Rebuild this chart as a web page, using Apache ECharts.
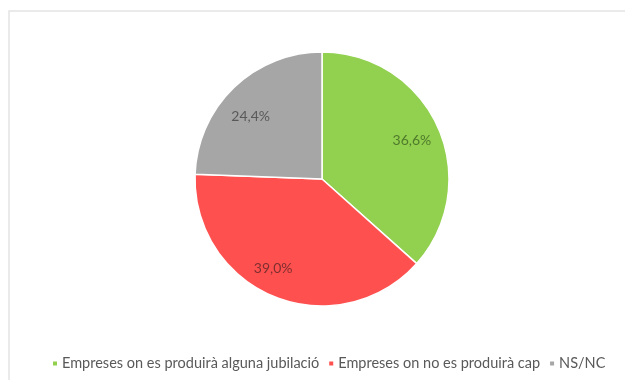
<!DOCTYPE html>
<html><head><meta charset="utf-8">
<script src="https://cdn.jsdelivr.net/npm/echarts@6/dist/echarts.min.js"></script>
<style>html,body{margin:0;padding:0;background:#fff}#c{width:625px;height:380px}</style>
</head><body><div id="c"></div>
<script>
const categories = ['Empreses on es produirà alguna jubilació', 'Empreses on no es produirà cap', 'NS/NC'];
const values = [36.6, 39.0, 24.4];
const colors = ['#92D050', '#FF5050', '#A6A6A6'];
const labelColors = ['#4F7A2B', '#7E2F2F', '#595959'];
const labelOffsets = [[0, 2], [-12, -2], [-3, 8]];

function render() {
  const chart = echarts.init(document.getElementById('c'), null, {renderer: 'canvas'});
  const fmt = v => v.toFixed(1).replace('.', ',') + '%';
  chart.setOption({
    animation: false,
    graphic: [{type: 'rect', shape: {x: 9, y: 11, width: 630, height: 400}, style: {fill: 'none', stroke: '#e3e3e3', lineWidth: 1.5}, silent: true}],
    legend: {
      bottom: 4, left: 46,
      itemWidth: 6, itemHeight: 6, icon: 'rect', itemGap: 8,
      textStyle: {fontFamily: 'Lato', fontSize: 14.5, color: '#595959', padding: [0, 0, 0, -1]},
      data: categories
    },
    series: [{
      type: 'pie', center: [322, 179], radius: 127, startAngle: 90, clockwise: true,
      itemStyle: {borderColor: '#fff', borderWidth: 1.5},
      label: {show: false}, labelLine: {show: false},
      data: categories.map((n, i) => ({name: n, value: values[i], itemStyle: {color: colors[i]}}))
    }, {
      type: 'pie', center: [322, 179], radius: [64, 127], startAngle: 90, clockwise: true, silent: true,
      itemStyle: {color: 'rgba(0,0,0,0)'},
      label: {show: true, position: 'inside', fontFamily: 'Lato', fontSize: 14},
      labelLine: {show: false},
      data: categories.map((n, i) => ({name: n + ' ', value: values[i],
        label: {color: labelColors[i], offset: labelOffsets[i], formatter: () => fmt(values[i])}}))
    }]
  });
}
if (document.fonts && document.fonts.load) {
  Promise.all([document.fonts.load('14px Lato'), document.fonts.load('15px Lato')]).then(render, render);
} else { render(); }
</script></body></html>
